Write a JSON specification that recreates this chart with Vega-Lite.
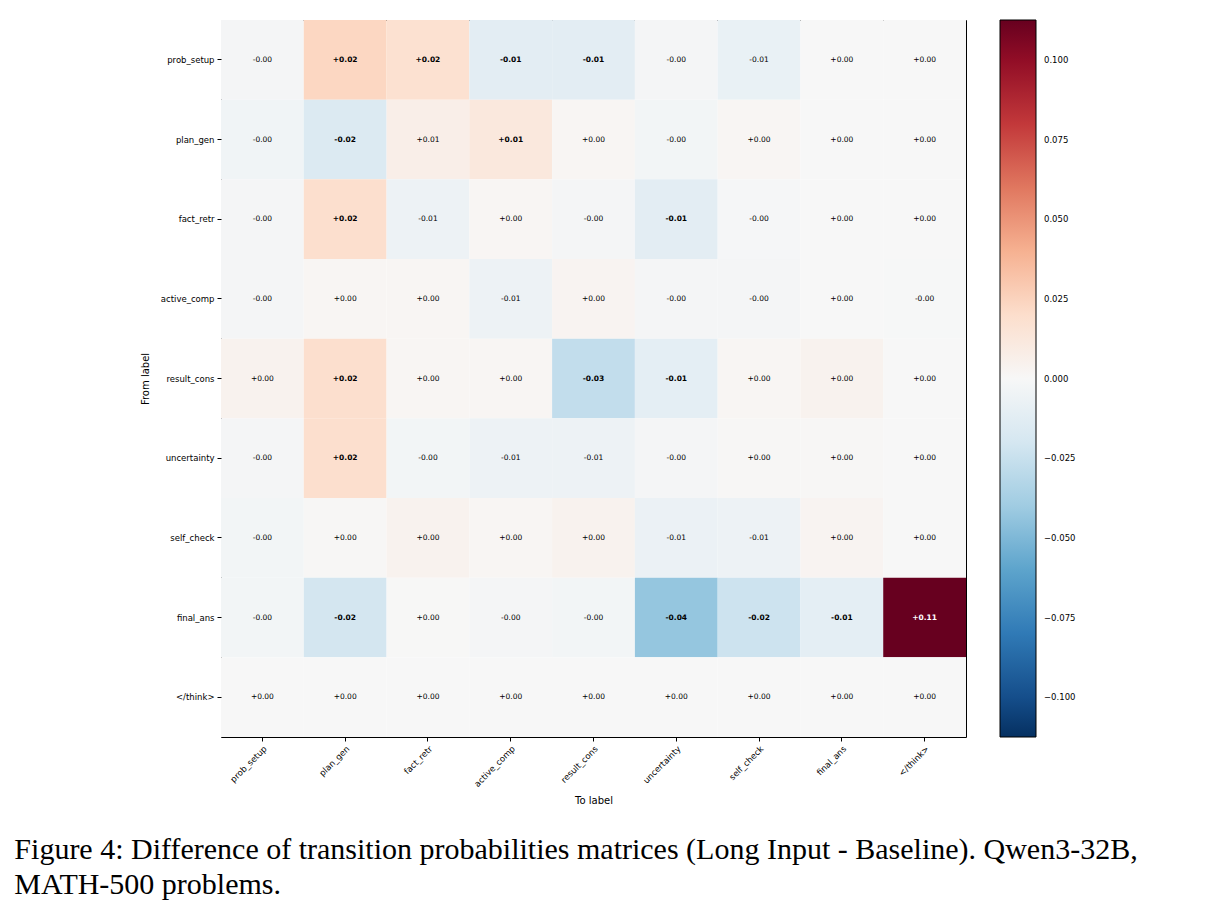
{
  "$schema": "https://vega.github.io/schema/vega-lite/v6.json",
  "width": 745,
  "height": 717,
  "autosize": {"type": "none"},
  "padding": {"left": 221, "top": 20, "right": 256, "bottom": 177},
  "background": "white",
  "config": {
    "view": {"stroke": "black", "strokeWidth": 1},
    "font": "DejaVu Sans",
    "axis": {
      "labelFont": "DejaVu Sans",
      "labelColor": "black",
      "labelFontSize": 8.5,
      "titleFont": "DejaVu Sans",
      "titleFontWeight": "normal",
      "titleFontSize": 10,
      "titleColor": "black",
      "tickColor": "black",
      "tickSize": 4,
      "domain": false,
      "grid": false,
      "labelPadding": 3
    }
  },
  "title": {
    "text": ["Figure 4: Difference of transition probabilities matrices (Long Input - Baseline).  Qwen3-32B,", "MATH-500 problems."],
    "orient": "bottom",
    "anchor": "start",
    "frame": "bounds",
    "font": "Liberation Serif",
    "fontSize": 30,
    "fontWeight": "normal",
    "color": "black",
    "lineHeight": 35,
    "offset": 29,
    "dx": -126
  },
  "data": {
    "values": [
      {"from": "prob_setup", "to": "prob_setup", "v": -0.002},
      {"from": "prob_setup", "to": "plan_gen", "v": 0.024},
      {"from": "prob_setup", "to": "fact_retr", "v": 0.018},
      {"from": "prob_setup", "to": "active_comp", "v": -0.012},
      {"from": "prob_setup", "to": "result_cons", "v": -0.012},
      {"from": "prob_setup", "to": "uncertainty", "v": -0.002},
      {"from": "prob_setup", "to": "self_check", "v": -0.008},
      {"from": "prob_setup", "to": "final_ans", "v": 0.0001},
      {"from": "prob_setup", "to": "</think>", "v": 0.0001},

      {"from": "plan_gen", "to": "prob_setup", "v": -0.004},
      {"from": "plan_gen", "to": "plan_gen", "v": -0.016},
      {"from": "plan_gen", "to": "fact_retr", "v": 0.007},
      {"from": "plan_gen", "to": "active_comp", "v": 0.012},
      {"from": "plan_gen", "to": "result_cons", "v": 0.002},
      {"from": "plan_gen", "to": "uncertainty", "v": -0.003},
      {"from": "plan_gen", "to": "self_check", "v": 0.002},
      {"from": "plan_gen", "to": "final_ans", "v": 0.0001},
      {"from": "plan_gen", "to": "</think>", "v": 0.0001},

      {"from": "fact_retr", "to": "prob_setup", "v": -0.002},
      {"from": "fact_retr", "to": "plan_gen", "v": 0.019},
      {"from": "fact_retr", "to": "fact_retr", "v": -0.006},
      {"from": "fact_retr", "to": "active_comp", "v": 0.002},
      {"from": "fact_retr", "to": "result_cons", "v": -0.002},
      {"from": "fact_retr", "to": "uncertainty", "v": -0.012},
      {"from": "fact_retr", "to": "self_check", "v": -0.001},
      {"from": "fact_retr", "to": "final_ans", "v": 0.0001},
      {"from": "fact_retr", "to": "</think>", "v": 0.0001},

      {"from": "active_comp", "to": "prob_setup", "v": -0.002},
      {"from": "active_comp", "to": "plan_gen", "v": 0.002},
      {"from": "active_comp", "to": "fact_retr", "v": 0.002},
      {"from": "active_comp", "to": "active_comp", "v": -0.006},
      {"from": "active_comp", "to": "result_cons", "v": 0.003},
      {"from": "active_comp", "to": "uncertainty", "v": -0.002},
      {"from": "active_comp", "to": "self_check", "v": -0.002},
      {"from": "active_comp", "to": "final_ans", "v": 0.0002},
      {"from": "active_comp", "to": "</think>", "v": -0.0004},

      {"from": "result_cons", "to": "prob_setup", "v": 0.004},
      {"from": "result_cons", "to": "plan_gen", "v": 0.019},
      {"from": "result_cons", "to": "fact_retr", "v": 0.002},
      {"from": "result_cons", "to": "active_comp", "v": 0.002},
      {"from": "result_cons", "to": "result_cons", "v": -0.028},
      {"from": "result_cons", "to": "uncertainty", "v": -0.011},
      {"from": "result_cons", "to": "self_check", "v": 0.002},
      {"from": "result_cons", "to": "final_ans", "v": 0.004},
      {"from": "result_cons", "to": "</think>", "v": 0.0002},

      {"from": "uncertainty", "to": "prob_setup", "v": -0.002},
      {"from": "uncertainty", "to": "plan_gen", "v": 0.019},
      {"from": "uncertainty", "to": "fact_retr", "v": -0.003},
      {"from": "uncertainty", "to": "active_comp", "v": -0.006},
      {"from": "uncertainty", "to": "result_cons", "v": -0.006},
      {"from": "uncertainty", "to": "uncertainty", "v": -0.002},
      {"from": "uncertainty", "to": "self_check", "v": 0.001},
      {"from": "uncertainty", "to": "final_ans", "v": 0.001},
      {"from": "uncertainty", "to": "</think>", "v": 0.0001},

      {"from": "self_check", "to": "prob_setup", "v": -0.003},
      {"from": "self_check", "to": "plan_gen", "v": 0.001},
      {"from": "self_check", "to": "fact_retr", "v": 0.004},
      {"from": "self_check", "to": "active_comp", "v": 0.002},
      {"from": "self_check", "to": "result_cons", "v": 0.004},
      {"from": "self_check", "to": "uncertainty", "v": -0.007},
      {"from": "self_check", "to": "self_check", "v": -0.006},
      {"from": "self_check", "to": "final_ans", "v": 0.003},
      {"from": "self_check", "to": "</think>", "v": 0.0001},

      {"from": "final_ans", "to": "prob_setup", "v": -0.003},
      {"from": "final_ans", "to": "plan_gen", "v": -0.021},
      {"from": "final_ans", "to": "fact_retr", "v": 0.0004},
      {"from": "final_ans", "to": "active_comp", "v": -0.002},
      {"from": "final_ans", "to": "result_cons", "v": -0.003},
      {"from": "final_ans", "to": "uncertainty", "v": -0.044},
      {"from": "final_ans", "to": "self_check", "v": -0.024},
      {"from": "final_ans", "to": "final_ans", "v": -0.011},
      {"from": "final_ans", "to": "</think>", "v": 0.1125},

      {"from": "</think>", "to": "prob_setup", "v": 0},
      {"from": "</think>", "to": "plan_gen", "v": 0},
      {"from": "</think>", "to": "fact_retr", "v": 0},
      {"from": "</think>", "to": "active_comp", "v": 0},
      {"from": "</think>", "to": "result_cons", "v": 0},
      {"from": "</think>", "to": "uncertainty", "v": 0},
      {"from": "</think>", "to": "self_check", "v": 0},
      {"from": "</think>", "to": "final_ans", "v": 0},
      {"from": "</think>", "to": "</think>", "v": 0}
    ]
  },
  "transform": [
    {"calculate": "(datum.v < 0 ? '-' : '+') + format(abs(datum.v), '.2f')", "as": "label"}
  ],
  "encoding": {
    "x": {
      "field": "to",
      "type": "nominal",
      "sort": ["prob_setup", "plan_gen", "fact_retr", "active_comp", "result_cons", "uncertainty", "self_check", "final_ans", "</think>"],
      "scale": {"paddingInner": 0, "paddingOuter": 0},
      "axis": {"title": "To label", "labelAngle": -45, "labelAlign": "right", "labelBaseline": "top", "titlePadding": 8}
    },
    "y": {
      "field": "from",
      "type": "nominal",
      "sort": ["prob_setup", "plan_gen", "fact_retr", "active_comp", "result_cons", "uncertainty", "self_check", "final_ans", "</think>"],
      "scale": {"paddingInner": 0, "paddingOuter": 0},
      "axis": {"title": "From label", "titlePadding": 10}
    }
  },
  "layer": [
    {
      "mark": {"type": "rect", "strokeWidth": 0},
      "encoding": {
        "color": {
          "field": "v",
          "type": "quantitative",
          "scale": {
            "type": "linear",
            "domain": [-0.1125, -0.09, -0.0675, -0.045, -0.0225, 0, 0.0225, 0.045, 0.0675, 0.09, 0.1125],
            "range": ["#053061", "#2166ac", "#4393c3", "#92c5de", "#d1e5f0", "#f7f7f7", "#fddbc7", "#f4a582", "#d6604d", "#b2182b", "#67001f"],
            "interpolate": "rgb"
          },
          "legend": {
            "title": null,
            "orient": "none",
            "legendX": 779,
            "legendY": 0,
            "direction": "vertical",
            "gradientLength": 717,
            "gradientThickness": 36,
            "gradientStrokeColor": "black",
            "gradientStrokeWidth": 1,
            "values": [-0.1, -0.075, -0.05, -0.025, 0, 0.025, 0.05, 0.075, 0.1],
            "format": ".3f",
            "labelFont": "DejaVu Sans",
            "labelFontSize": 8.5,
            "labelColor": "black",
            "labelOffset": 8,
            "labelOverlap": false
          }
        }
      }
    },
    {
      "transform": [{"filter": "abs(datum.v) < 0.01"}],
      "mark": {"type": "text", "font": "DejaVu Sans", "fontSize": 7.5, "fontWeight": "normal", "color": "black"},
      "encoding": {
        "text": {"field": "label"}
      }
    },
    {
      "transform": [{"filter": "abs(datum.v) >= 0.01"}],
      "mark": {"type": "text", "font": "DejaVu Sans", "fontSize": 7.5, "fontWeight": "bold"},
      "encoding": {
        "text": {"field": "label"},
        "color": {"condition": {"test": "abs(datum.v) > 0.06", "value": "white"}, "value": "black"}
      }
    }
  ]
}
